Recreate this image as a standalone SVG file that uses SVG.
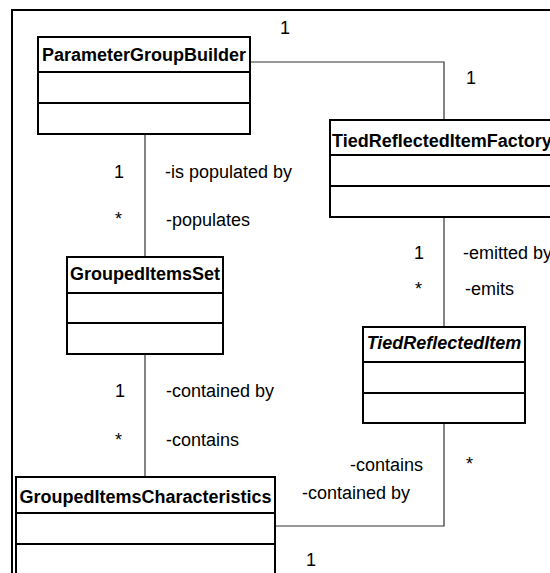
<svg xmlns="http://www.w3.org/2000/svg" width="550" height="573" viewBox="0 0 550 573">
<style>
  .box { fill: #ffffff; stroke: #000000; stroke-width: 2; }
  .div { stroke: #000000; stroke-width: 2; }
  .frame { fill: none; stroke: #000000; stroke-width: 2; }
  .conn { fill: none; stroke: #333333; stroke-width: 1.2; }
  .title { font-family: "Liberation Sans", Arial, sans-serif; font-size: 18px; font-weight: bold; fill: #000000; }
  .lbl { font-family: "Liberation Sans", Arial, sans-serif; font-size: 18px; fill: #000000; }
</style>
<rect width="550" height="573" fill="#ffffff"/>
<path class="frame" d="M12,573 V10 H551"/>

<g id="connectors">
  <path class="conn" d="M250,62 H444 V120"/>
  <path class="conn" d="M145,134 V257"/>
  <path class="conn" d="M444,217 V327"/>
  <path class="conn" d="M145,354 V477"/>
  <path class="conn" d="M444,423 V526 H275"/>
</g>

<g id="labels">
  <text class="lbl" x="280" y="33.5">1</text>
  <text class="lbl" x="466" y="83.5">1</text>
  <text class="lbl" x="114" y="177.5">1</text>
  <text class="lbl" x="165" y="177.5">-is populated by</text>
  <text class="lbl" x="115" y="225">*</text>
  <text class="lbl" x="166" y="226">-populates</text>
  <text class="lbl" x="414" y="259">1</text>
  <text class="lbl" x="463" y="259">-emitted by</text>
  <text class="lbl" x="415" y="295">*</text>
  <text class="lbl" x="465" y="295">-emits</text>
  <text class="lbl" x="115" y="397">1</text>
  <text class="lbl" x="166" y="397">-contained by</text>
  <text class="lbl" x="115" y="446">*</text>
  <text class="lbl" x="166" y="446">-contains</text>
  <text class="lbl" x="423" y="471" text-anchor="end">-contains</text>
  <text class="lbl" x="466" y="470">*</text>
  <text class="lbl" x="302" y="499">-contained by</text>
  <text class="lbl" x="306" y="566">1</text>
</g>

<g id="ParameterGroupBuilder">
  <rect class="box" x="38" y="37" width="212" height="97"/>
  <line class="div" x1="38" y1="72" x2="250" y2="72"/>
  <line class="div" x1="38" y1="103" x2="250" y2="103"/>
  <text class="title" x="144" y="60.5" text-anchor="middle">ParameterGroupBuilder</text>
</g>

<g id="TiedReflectedItemFactory">
  <rect class="box" x="330" y="120" width="240" height="97"/>
  <line class="div" x1="330" y1="155" x2="570" y2="155"/>
  <line class="div" x1="330" y1="186" x2="570" y2="186"/>
  <text class="title" x="332" y="146.5">TiedReflectedItemFactory</text>
</g>

<g id="GroupedItemsSet">
  <rect class="box" x="67" y="257" width="156" height="97"/>
  <line class="div" x1="67" y1="293" x2="223" y2="293"/>
  <line class="div" x1="67" y1="323" x2="223" y2="323"/>
  <text class="title" x="145" y="280" text-anchor="middle">GroupedItemsSet</text>
</g>

<g id="TiedReflectedItem">
  <rect class="box" x="363" y="327" width="162" height="96"/>
  <line class="div" x1="363" y1="362" x2="525" y2="362"/>
  <line class="div" x1="363" y1="393" x2="525" y2="393"/>
  <text class="title" x="444" y="349" text-anchor="middle" font-style="italic">TiedReflectedItem</text>
</g>

<g id="GroupedItemsCharacteristics">
  <rect class="box" x="16" y="477" width="259" height="110"/>
  <line class="div" x1="16" y1="513" x2="275" y2="513"/>
  <line class="div" x1="16" y1="544" x2="275" y2="544"/>
  <text class="title" x="145.5" y="502.5" text-anchor="middle">GroupedItemsCharacteristics</text>
</g>
</svg>
